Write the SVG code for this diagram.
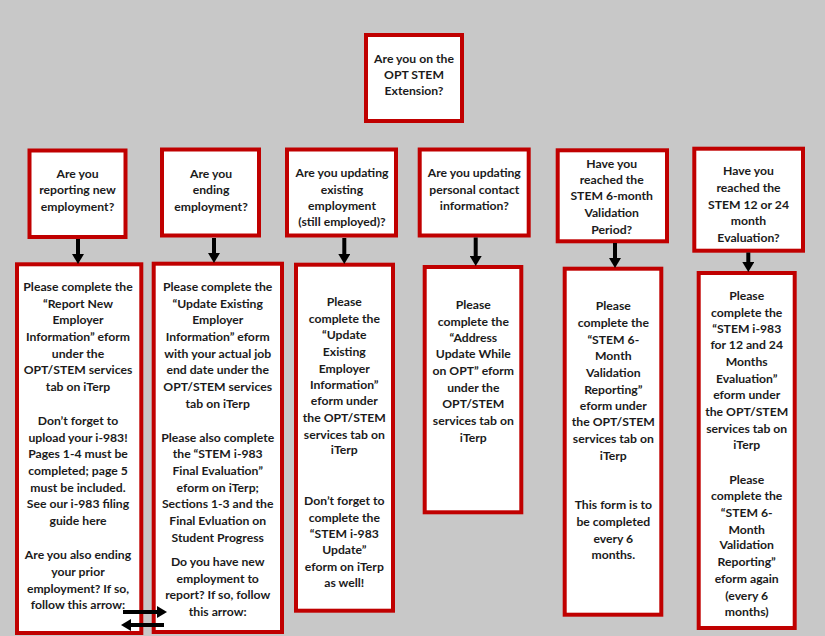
<svg xmlns="http://www.w3.org/2000/svg" width="825" height="636" viewBox="0 0 825 636">
<defs>
<style>
.box{fill:#ffffff;stroke:#c00000;stroke-width:4}
.t{font-family:Lato,"Liberation Sans",sans-serif;font-weight:bold;font-size:12.2px;fill:#1b1b1b;text-anchor:middle}
.c{stroke:#000000;stroke-width:4;fill:none;marker-end:url(#ah)}
</style>
<marker id="ah" markerUnits="userSpaceOnUse" markerWidth="12" markerHeight="12" refX="2" refY="6" orient="auto" viewBox="0 0 10 12">
<path d="M0,0 L10,6 L0,12 z" fill="#000000"/>
</marker>
</defs>
<rect x="0" y="0" width="825" height="636" fill="#c8c8c8"/>

<g id="q0">
<rect class="box" x="366" y="35" width="96" height="86"/>
<text class="t"><tspan x="414" y="62.6">Are you on the</tspan><tspan x="414" y="79.3">OPT STEM</tspan><tspan x="414" y="95">Extension?</tspan></text>
</g>

<g id="q1">
<rect class="box" x="29.5" y="150.5" width="96" height="86.5"/>
<text class="t"><tspan x="77.5" y="177.6">Are you</tspan><tspan x="77.5" y="194.3">reporting new</tspan><tspan x="77.5" y="211">employment?</tspan></text>
</g>

<g id="q2">
<rect class="box" x="162" y="149.5" width="97" height="86"/>
<text class="t"><tspan x="211" y="177.6">Are you</tspan><tspan x="211" y="194.3">ending</tspan><tspan x="211" y="211">employment?</tspan></text>
</g>

<g id="q3">
<rect class="box" x="287" y="149.5" width="109" height="86"/>
<text class="t"><tspan x="342" y="177">Are you updating</tspan><tspan x="342" y="193.6">existing</tspan><tspan x="342" y="209.6">employment</tspan><tspan x="342" y="225.6">(still employed)?</tspan></text>
</g>

<g id="q4">
<rect class="box" x="419.7" y="149.5" width="109" height="86"/>
<text class="t"><tspan x="474.3" y="177">Are you updating</tspan><tspan x="474.3" y="193.6">personal contact</tspan><tspan x="474.3" y="209.6">information?</tspan></text>
</g>

<g id="q5">
<rect class="box" x="557.7" y="150.3" width="109.3" height="91"/>
<text class="t"><tspan x="611.7" y="167.6">Have you</tspan><tspan x="611.7" y="184.3">reached the</tspan><tspan x="611.7" y="200.3">STEM 6-month</tspan><tspan x="611.7" y="217">Validation</tspan><tspan x="611.7" y="233.6">Period?</tspan></text>
</g>

<g id="q6">
<rect class="box" x="694.3" y="148.7" width="108.7" height="102"/>
<text class="t"><tspan x="748.5" y="175.3">Have you</tspan><tspan x="748.5" y="192">reached the</tspan><tspan x="748.5" y="208.6">STEM 12 or 24</tspan><tspan x="748.5" y="225.3">month</tspan><tspan x="748.5" y="242">Evaluation?</tspan></text>
</g>

<g id="a1">
<rect class="box" x="17" y="264.3" width="124.3" height="368.7"/>
<text class="t"><tspan x="78" y="291">Please complete the</tspan><tspan x="78" y="307.7">“Report New</tspan><tspan x="78" y="324.3">Employer</tspan><tspan x="78" y="341">Information” eform</tspan><tspan x="78" y="357.6">under the</tspan><tspan x="78" y="374.3">OPT/STEM services</tspan><tspan x="78" y="391">tab on iTerp</tspan><tspan x="78" y="425">Don’t forget to</tspan><tspan x="78" y="441.6">upload your i-983!</tspan><tspan x="78" y="458.3">Pages 1-4 must be</tspan><tspan x="78" y="475">completed; page 5</tspan><tspan x="78" y="491.6">must be included.</tspan><tspan x="78" y="508.3">See our i-983 filing</tspan><tspan x="78" y="525">guide here</tspan><tspan x="78" y="559.3">Are you also ending</tspan><tspan x="78" y="576">your prior</tspan><tspan x="78" y="592.6">employment? If so,</tspan><tspan x="78" y="609.3">follow this arrow:</tspan></text>
</g>

<g id="a2">
<rect class="box" x="153.7" y="263.7" width="128.3" height="368.3"/>
<text class="t"><tspan x="217.7" y="291">Please complete the</tspan><tspan x="217.7" y="307.6">“Update Existing</tspan><tspan x="217.7" y="324.3">Employer</tspan><tspan x="217.7" y="341">Information” eform</tspan><tspan x="217.7" y="357.6">with your actual job</tspan><tspan x="217.7" y="374.3">end date under the</tspan><tspan x="217.7" y="391">OPT/STEM services</tspan><tspan x="217.7" y="407.6">tab on iTerp</tspan><tspan x="217.7" y="441.6">Please also complete</tspan><tspan x="217.7" y="458.3">the “STEM i-983</tspan><tspan x="217.7" y="475">Final Evaluation”</tspan><tspan x="217.7" y="491.6">eform on iTerp;</tspan><tspan x="217.7" y="508.3">Sections 1-3 and the</tspan><tspan x="217.7" y="525">Final Evluation on</tspan><tspan x="217.7" y="541.6">Student Progress</tspan><tspan x="217.7" y="566">Do you have new</tspan><tspan x="217.7" y="582.6">employment to</tspan><tspan x="217.7" y="599.3">report? If so, follow</tspan><tspan x="217.7" y="616">this arrow:</tspan></text>
</g>

<g id="a3">
<rect class="box" x="296" y="264.7" width="97" height="346"/>
<text class="t"><tspan x="344.3" y="306">Please</tspan><tspan x="344.3" y="322.6">complete the</tspan><tspan x="344.3" y="339">“Update</tspan><tspan x="344.3" y="356">Existing</tspan><tspan x="344.3" y="372.6">Employer</tspan><tspan x="344.3" y="388.6">Information”</tspan><tspan x="344.3" y="405.3">eform under</tspan><tspan x="344.3" y="422">the OPT/STEM</tspan><tspan x="344.3" y="438.6">services tab on</tspan><tspan x="344.3" y="454.3">iTerp</tspan><tspan x="344.3" y="505.3">Don’t forget to</tspan><tspan x="344.3" y="521.6">complete the</tspan><tspan x="344.3" y="537.6">“STEM i-983</tspan><tspan x="344.3" y="554.3">Update”</tspan><tspan x="344.3" y="571">eform on iTerp</tspan><tspan x="344.3" y="587">as well!</tspan></text>
</g>

<g id="a4">
<rect class="box" x="424.7" y="267" width="96.6" height="245.3"/>
<text class="t"><tspan x="473.3" y="309.3">Please</tspan><tspan x="473.3" y="326">complete the</tspan><tspan x="473.3" y="341.6">“Address</tspan><tspan x="473.3" y="358.3">Update While</tspan><tspan x="473.3" y="375">on OPT” eform</tspan><tspan x="473.3" y="391.6">under the</tspan><tspan x="473.3" y="408.3">OPT/STEM</tspan><tspan x="473.3" y="425">services tab on</tspan><tspan x="473.3" y="441.6">iTerp</tspan></text>
</g>

<g id="a5">
<rect class="box" x="564.7" y="268.7" width="96.6" height="346"/>
<text class="t"><tspan x="613.3" y="310">Please</tspan><tspan x="613.3" y="326.6">complete the</tspan><tspan x="613.3" y="344.3">“STEM 6-</tspan><tspan x="613.3" y="360.3">Month</tspan><tspan x="613.3" y="377">Validation</tspan><tspan x="613.3" y="393.6">Reporting”</tspan><tspan x="613.3" y="410.3">eform under</tspan><tspan x="613.3" y="426.3">the OPT/STEM</tspan><tspan x="613.3" y="443">services tab on</tspan><tspan x="613.3" y="459.6">iTerp</tspan><tspan x="613.3" y="509.3">This form is to</tspan><tspan x="613.3" y="526">be completed</tspan><tspan x="613.3" y="542.6">every 6</tspan><tspan x="613.3" y="558.6">months.</tspan></text>
</g>

<g id="a6">
<rect class="box" x="698.7" y="273" width="96" height="355"/>
<text class="t"><tspan x="746.7" y="300">Please</tspan><tspan x="746.7" y="316.6">complete the</tspan><tspan x="746.7" y="333.3">“STEM i-983</tspan><tspan x="746.7" y="349.3">for 12 and 24</tspan><tspan x="746.7" y="366">Months</tspan><tspan x="746.7" y="382.6">Evaluation”</tspan><tspan x="746.7" y="399.3">eform under</tspan><tspan x="746.7" y="416">the OPT/STEM</tspan><tspan x="746.7" y="432.6">services tab on</tspan><tspan x="746.7" y="449.3">iTerp</tspan><tspan x="746.7" y="484.3">Please</tspan><tspan x="746.7" y="500.3">complete the</tspan><tspan x="746.7" y="517">“STEM 6-</tspan><tspan x="746.7" y="533.6">Month</tspan><tspan x="746.7" y="549.3">Validation</tspan><tspan x="746.7" y="566">Reporting”</tspan><tspan x="746.7" y="582.6">eform again</tspan><tspan x="746.7" y="600">(every 6</tspan><tspan x="746.7" y="616">months)</tspan></text>
</g>

<g id="connectors">
<line class="c" x1="78" y1="239" x2="78" y2="256"/>
<line class="c" x1="214" y1="238" x2="214" y2="255"/>
<line class="c" x1="344.3" y1="238" x2="344.3" y2="256"/>
<line class="c" x1="475.7" y1="237.5" x2="475.7" y2="258"/>
<line class="c" x1="615" y1="243" x2="615" y2="260"/>
<line class="c" x1="748.3" y1="252.5" x2="748.3" y2="264"/>
<line class="c" x1="123" y1="612" x2="159" y2="612"/>
<line class="c" x1="164" y1="625" x2="129" y2="625"/>
</g>
</svg>
